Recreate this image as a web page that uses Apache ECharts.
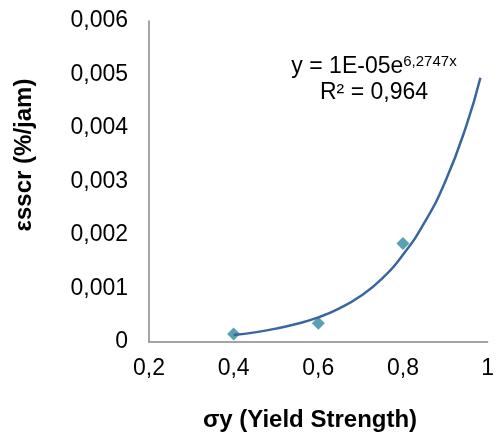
<!DOCTYPE html>
<html>
<head>
<meta charset="utf-8">
<script src="https://cdn.jsdelivr.net/npm/echarts@6/dist/echarts.min.js"></script>
<style>
html,body{margin:0;padding:0;background:#fff;}
#chart{width:497px;height:436px;}
</style>
</head>
<body>
<div id="chart"></div>
<script>
// Measured data points
const xValues = [0.4, 0.6, 0.8];
const yValues = [0.00015, 0.00035, 0.00184];

// Exponential trendline
const trendX = [0.4, 0.45, 0.5, 0.55, 0.6, 0.65, 0.7, 0.75, 0.8, 0.85, 0.9, 0.95, 0.983];
const trendY = [0.00013, 0.00018, 0.00025, 0.00034, 0.00046, 0.00063, 0.00086, 0.00118, 0.00163, 0.00222, 0.00300, 0.00405, 0.00494];

const xTickLabels = ['0,2', '0,4', '0,6', '0,8', '1'];
const yTickLabels = ['0', '0,001', '0,002', '0,003', '0,004', '0,005', '0,006'];

const xTitle = 'σy (Yield Strength)';
const yTitle = 'εsscr (%/jam)';
const eqBase = 'y = 1E-05e';
const eqExp = '6,2747x';
const eqR2 = 'R² = 0,964';

const FONT = '"Liberation Sans", Arial, sans-serif';

const chart = echarts.init(document.getElementById('chart'), null, {renderer: 'canvas'});
chart.setOption({
  animation: false,
  backgroundColor: '#ffffff',
  grid: {left: 149, right: 3, top: 21, bottom: 94, containLabel: false},
  xAxis: {
    type: 'value', min: 0.2, max: 1, interval: 0.2,
    axisLine: {show: true, lineStyle: {color: '#878787', width: 1.5}},
    axisTick: {show: false},
    splitLine: {show: false},
    axisLabel: {
      margin: 15, color: '#000', fontFamily: FONT, fontSize: 23,
      formatter: (v, i) => xTickLabels[i]
    }
  },
  yAxis: {
    type: 'value', min: 0, max: 0.006, interval: 0.001,
    axisLine: {show: true, lineStyle: {color: '#878787', width: 1.5}},
    axisTick: {show: false},
    splitLine: {show: false},
    axisLabel: {
      margin: 21, color: '#000', fontFamily: FONT, fontSize: 23,
      formatter: (v, i) => yTickLabels[i]
    }
  },
  series: [
    {
      type: 'scatter',
      data: xValues.map((x, i) => [x, yValues[i]]),
      symbol: 'diamond',
      symbolSize: [13, 13],
      itemStyle: {color: '#2E899F'},
      z: 2
    },
    {
      type: 'line',
      data: trendX.map((x, i) => [x, trendY[i]]),
      smooth: 0.5,
      showSymbol: false,
      lineStyle: {color: '#3A66A0', width: 2.5},
      z: 3
    }
  ],
  graphic: [
    {
      type: 'text', x: 310, y: 420,
      style: {text: xTitle, font: 'bold 24px ' + FONT, fill: '#000', align: 'center', verticalAlign: 'middle'}
    },
    {
      type: 'text', x: 24, y: 155, rotation: Math.PI / 2,
      style: {text: yTitle, font: 'bold 24px ' + FONT, fill: '#000', align: 'center', verticalAlign: 'middle'}
    },
    {
      type: 'text', x: 374, y: 80,
      style: {
        text: '{a|' + eqBase + '}{b|' + eqExp + '}\n{a|' + eqR2 + '}',
        align: 'center', verticalAlign: 'middle', fill: '#000',
        rich: {
          a: {fontSize: 23, fontFamily: FONT, lineHeight: 26, fill: '#000'},
          b: {fontSize: 15, fontFamily: FONT, lineHeight: 14, verticalAlign: 'top', fill: '#000'}
        }
      }
    }
  ]
});
</script>
</body>
</html>
